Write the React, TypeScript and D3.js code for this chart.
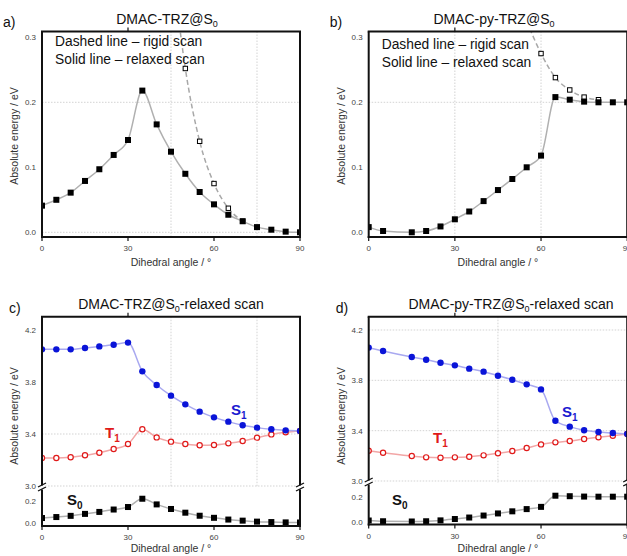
import React from 'react';
import * as d3 from 'd3';

// ---------- data ----------
const anglesTRZ = [0, 5, 10, 15, 20, 25, 30, 35, 40, 45, 50, 55, 60, 65, 70, 75, 80, 85, 90];
const anglesPy = [0, 5, 15, 20, 25, 30, 35, 40, 45, 50, 55, 60, 65, 70, 75, 80, 85, 90];

const trzS0 = [0.041, 0.050, 0.061, 0.079, 0.097, 0.119, 0.142, 0.218, 0.166, 0.124, 0.090, 0.062, 0.043, 0.027, 0.017, 0.008, 0.004, 0.001, 0.0];
const trzRigidAngles = [45, 50, 55, 60, 65, 70];
const trzRigid = [0.43, 0.252, 0.140, 0.075, 0.037, 0.017];

const pyS0 = [0.008, 0.002, 0.0, 0.002, 0.009, 0.020, 0.032, 0.048, 0.065, 0.082, 0.100, 0.118, 0.208, 0.204, 0.201, 0.200, 0.200, 0.200];
const pyRigidAngles = [55, 60, 65, 70, 75, 80];
const pyRigid = [0.325, 0.275, 0.238, 0.219, 0.208, 0.204];

const trzS1 = [4.051, 4.051, 4.051, 4.062, 4.074, 4.087, 4.103, 3.882, 3.777, 3.695, 3.628, 3.572, 3.528, 3.495, 3.467, 3.449, 3.436, 3.428, 3.423];
const trzT1 = [3.215, 3.215, 3.221, 3.236, 3.256, 3.285, 3.323, 3.436, 3.374, 3.341, 3.323, 3.313, 3.315, 3.328, 3.346, 3.372, 3.397, 3.413, 3.423];

const pyS1 = [4.060, 4.033, 3.985, 3.964, 3.940, 3.919, 3.893, 3.869, 3.837, 3.805, 3.768, 3.728, 3.479, 3.432, 3.403, 3.389, 3.382, 3.374];
const pyT1 = [3.241, 3.225, 3.199, 3.188, 3.185, 3.188, 3.193, 3.204, 3.220, 3.238, 3.262, 3.291, 3.307, 3.318, 3.334, 3.347, 3.360, 3.374];

const xTicks = [0, 30, 60, 90];
const singleYTicks = [0.0, 0.1, 0.2, 0.3];
const upperYTicks = [3.0, 3.4, 3.8, 4.2];
const lowerYTicks = [0.0, 0.2];

const FONT = '"Liberation Sans", Arial, Helvetica, sans-serif';

type Pt = [number, number];
const zip = (xs: number[], ys: number[]): Pt[] => xs.map((x, i) => [x, ys[i]]);

function Frame({ x0, x1, top, bottom, brk }: { x0: number; x1: number; top: number; bottom: number; brk?: number }) {
  return (
    <g stroke="#111" strokeWidth={2} fill="none">
      <line x1={x0} x2={x0} y1={top} y2={bottom + 1} />
      <line x1={x1} x2={x1} y1={top} y2={bottom + 1} />
      <line x1={x0 - 1} x2={x1 + 1} y1={top} y2={top} />
      <line x1={x0 - 1} x2={x1 + 1} y1={bottom} y2={bottom} />
      {brk !== undefined && [x0, x1].map((bx, i) => (
        <g key={i}>
          <rect x={bx - 4} y={brk - 2} width={8} height={4} fill="white" stroke="none" />
          <line x1={bx - 4} y1={brk - 0.5} x2={bx + 4} y2={brk - 4.5} strokeWidth={1.3} />
          <line x1={bx - 4} y1={brk + 3.5} x2={bx + 4} y2={brk - 0.5} strokeWidth={1.3} />
        </g>
      ))}
    </g>
  );
}

function XAxis({ x, bottom, labelY }: { x: d3.ScaleLinear<number, number>; bottom: number; labelY: number }) {
  const [r0, r1] = x.range();
  return (
    <g fontFamily={FONT}>
      {xTicks.map((t) => (
        <g key={t}>
          <line x1={x(t)} x2={x(t)} y1={bottom} y2={bottom + 4} stroke="#111" strokeWidth={1.2} />
          <text x={x(t)} y={bottom + 14} fontSize={8} fill="#444" textAnchor="middle">{t}</text>
        </g>
      ))}
      <text x={(r0 + r1) / 2} y={labelY} fontSize={10.5} fill="#333" textAnchor="middle">Dihedral angle / °</text>
    </g>
  );
}

function YTickLabels({ y, ticks, x0, fmt }: { y: d3.ScaleLinear<number, number>; ticks: number[]; x0: number; fmt: (v: number) => string }) {
  return (
    <g fontFamily={FONT}>
      {ticks.map((t) => (
        <text key={t} x={x0 - 6} y={y(t) + 3} fontSize={8} fill="#444" textAnchor="end">{fmt(t)}</text>
      ))}
    </g>
  );
}

function Grid({ x, vx, hy, y, top, bottom, x0, x1 }: { x: d3.ScaleLinear<number, number>; vx: number[]; hy: number[]; y: d3.ScaleLinear<number, number>; top: number; bottom: number; x0: number; x1: number }) {
  return (
    <g stroke="#c8c8c8" strokeWidth={0.8} strokeDasharray="1.5,1.5">
      {vx.map((v) => <line key={'v' + v} x1={x(v)} x2={x(v)} y1={top} y2={bottom} />)}
      {hy.map((v) => <line key={'h' + v} x1={x0} x2={x1} y1={y(v)} y2={y(v)} />)}
    </g>
  );
}

function Series({ pts, x, y, color, dashed, marker, clip }: {
  pts: Pt[]; x: d3.ScaleLinear<number, number>; y: d3.ScaleLinear<number, number>;
  color: string; dashed?: boolean; marker: 'sq' | 'osq' | 'dot' | 'ocirc'; clip: string;
}) {
  const line = d3.line<Pt>().x((d) => x(d[0])).y((d) => y(d[1])).curve(d3.curveMonotoneX);
  const markColor = marker === 'dot' ? '#0a14d8' : marker === 'ocirc' ? '#e01a1a' : '#000';
  return (
    <g clipPath={`url(#${clip})`}>
      <path d={line(pts) || ''} fill="none" stroke={color} strokeWidth={1.5} strokeDasharray={dashed ? '5,3' : undefined} />
      {pts.map((p, i) => {
        const cx = x(p[0]);
        const cy = y(p[1]);
        if (marker === 'sq') return <rect key={i} x={cx - 3} y={cy - 3} width={6} height={6} fill="#000" />;
        if (marker === 'osq') return <rect key={i} x={cx - 2.2} y={cy - 2.2} width={4.4} height={4.4} fill="white" stroke="#000" strokeWidth={1} />;
        if (marker === 'dot') return <circle key={i} cx={cx} cy={cy} r={3.2} fill={markColor} />;
        return <circle key={i} cx={cx} cy={cy} r={2.6} fill="white" stroke={markColor} strokeWidth={1.2} />;
      })}
    </g>
  );
}

function Title({ x, y, parts }: { x: number; y: number; parts: [string, string, string] }) {
  return (
    <text x={x} y={y} fontFamily={FONT} fontSize={14} fill="#111" textAnchor="middle">
      {parts[0]}
      <tspan dy={3} fontSize={9}>{parts[1]}</tspan>
      <tspan dy={-3}>{parts[2]}</tspan>
    </text>
  );
}

function Sub({ x, y, base, sub, color }: { x: number; y: number; base: string; sub: string; color: string }) {
  return (
    <text x={x} y={y} fontFamily={FONT} fontSize={15} fontWeight="bold" fill={color}>
      {base}
      <tspan dy={4} fontSize={10}>{sub}</tspan>
    </text>
  );
}

function YLabel({ x, y }: { x: number; y: number }) {
  return (
    <text transform={`translate(${x},${y}) rotate(-90)`} fontFamily={FONT} fontSize={10.5} fill="#333" textAnchor="middle">
      Absolute energy / eV
    </text>
  );
}

function SinglePanel({ id, x0, x1, letter, title, s0Angles, s0, rigidAngles, rigid, vgrid, hgrid, noteY }: any) {
  const top = 31.5;
  const bottom = 237;
  const x = d3.scaleLinear().domain([0, 90]).range([x0, x1]);
  const y = d3.scaleLinear().domain([0, 0.3]).range([232.3, 37.3]);
  return (
    <g>
      <defs>
        <clipPath id={id}><rect x={x0} y={top} width={x1 - x0} height={bottom - top} /></clipPath>
      </defs>
      <Grid x={x} y={y} vx={vgrid} hy={hgrid} top={top} bottom={bottom} x0={x0} x1={x1} />
      <Series pts={zip(rigidAngles, rigid)} x={x} y={y} color="#a8a8a8" dashed marker="osq" clip={id} />
      <Series pts={zip(s0Angles, s0)} x={x} y={y} color="#b0b0b0" marker="sq" clip={id} />
      <Frame x0={x0} x1={x1} top={top} bottom={bottom} />
      <line x1={x(30)} x2={x(30)} y1={top} y2={top - 4} stroke="#111" strokeWidth={1.2} />
      <YTickLabels y={y} ticks={singleYTicks} x0={x0} fmt={d3.format('.1f')} />
      <XAxis x={x} bottom={bottom} labelY={266} />
      <YLabel x={x0 - 24} y={136} />
      <Title x={(x0 + x1) / 2 - 4} y={24} parts={title} />
      <text x={x0 - 39} y={27} fontFamily={FONT} fontSize={14} fill="#111">{letter}</text>
      <g fontFamily={FONT} fontSize={13.8} fill="#111">
        <text x={x0 + 13} y={noteY}>Dashed line – rigid scan</text>
        <text x={x0 + 13} y={noteY + 18}>Solid line – relaxed scan</text>
      </g>
    </g>
  );
}

function SplitPanel({ id, x0, x1, letter, title, titleX, angles, s0, s1, t1, upperRange, lowerRange, brk, bottom, vgrid, hgrid, labels }: any) {
  const top = 316.7;
  const x = d3.scaleLinear().domain([0, 90]).range([x0, x1]);
  const yU = d3.scaleLinear().domain([3.0, 4.2]).range(upperRange);
  const yL = d3.scaleLinear().domain([0, 0.2]).range(lowerRange);
  const idU = id + 'u';
  const idL = id + 'l';
  return (
    <g>
      <defs>
        <clipPath id={idU}><rect x={x0} y={top} width={x1 - x0} height={brk - top} /></clipPath>
        <clipPath id={idL}><rect x={x0} y={brk} width={x1 - x0} height={bottom - brk} /></clipPath>
      </defs>
      <Grid x={x} y={yU} vx={vgrid} hy={hgrid} top={top} bottom={brk} x0={x0} x1={x1} />
      <Series pts={zip(angles, t1)} x={x} y={yU} color="#f2a6a6" marker="ocirc" clip={idU} />
      <Series pts={zip(angles, s1)} x={x} y={yU} color="#a9a9f0" marker="dot" clip={idU} />
      <Series pts={zip(angles, s0)} x={x} y={yL} color="#b0b0b0" marker="sq" clip={idL} />
      <Frame x0={x0} x1={x1} top={top} bottom={bottom} brk={brk} />
      <line x1={x(30)} x2={x(30)} y1={top} y2={top - 4} stroke="#111" strokeWidth={1.2} />
      <YTickLabels y={yU} ticks={upperYTicks} x0={x0} fmt={d3.format('.1f')} />
      <YTickLabels y={yL} ticks={lowerYTicks} x0={x0} fmt={d3.format('.1f')} />
      <XAxis x={x} bottom={bottom} labelY={552} />
      <YLabel x={x0 - 24} y={416} />
      <Title x={titleX} y={309} parts={title} />
      <text x={x0 - 33} y={313} fontFamily={FONT} fontSize={14} fill="#111">{letter}</text>
      <Sub x={labels.s1[0]} y={labels.s1[1]} base="S" sub="1" color="#1a1ad0" />
      <Sub x={labels.t1[0]} y={labels.t1[1]} base="T" sub="1" color="#e01a1a" />
      <Sub x={labels.s0[0]} y={labels.s0[1]} base="S" sub="0" color="#111" />
    </g>
  );
}

export default function App() {
  return (
    <svg width={627} height={556} style={{ position: 'absolute', left: 0, top: 0, background: 'white' }}>
      <rect width={627} height={556} fill="white" />
      <SinglePanel id="ca" x0={42} x1={300} letter="a)" title={['DMAC-TRZ@S', '0', '']}
        s0Angles={anglesTRZ} s0={trzS0} rigidAngles={trzRigidAngles} rigid={trzRigid}
        vgrid={[45, 75]} hgrid={[0.0, 0.2]} noteY={46} />
      <SinglePanel id="cb" x0={368.7} x1={627.2} letter="b)" title={['DMAC-py-TRZ@S', '0', '']}
        s0Angles={anglesPy} s0={pyS0} rigidAngles={pyRigidAngles} rigid={pyRigid}
        vgrid={[30, 60]} hgrid={[0.2]} noteY={49} />
      <SplitPanel id="cc" x0={42} x1={300} letter="c)" title={['DMAC-TRZ@S', '0', '-relaxed scan']} titleX={171}
        angles={anglesTRZ} s0={trzS0} s1={trzS1} t1={trzT1}
        upperRange={[486, 330]} lowerRange={[522.5, 500.7]} brk={487.5} bottom={526}
        vgrid={[45, 75]} hgrid={[3.0, 3.4]}
        labels={{ s1: [231, 415], t1: [105, 438], s0: [67, 505] }} />
      <SplitPanel id="cd" x0={368.7} x1={627.2} letter="d)" title={['DMAC-py-TRZ@S', '0', '-relaxed scan']} titleX={511}
        angles={anglesPy} s0={pyS0} s1={pyS1} t1={pyT1}
        upperRange={[481, 330]} lowerRange={[521.5, 496.7]} brk={482.5} bottom={524.5}
        vgrid={[45]} hgrid={[3.0, 3.4, 3.8, 4.2]}
        labels={{ s1: [562, 417], t1: [433, 443], s0: [392, 505] }} />
    </svg>
  );
}
